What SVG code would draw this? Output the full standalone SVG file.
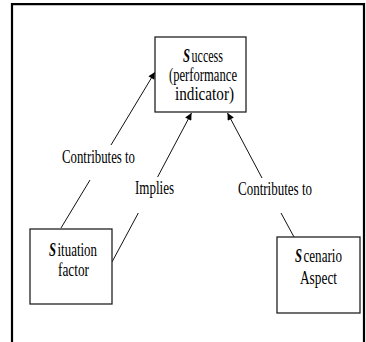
<svg xmlns="http://www.w3.org/2000/svg" width="366" height="342" viewBox="0 0 366 342">
  <defs>
    <marker id="arrow" viewBox="0 0 10 10" refX="10" refY="5" markerWidth="9" markerHeight="7" markerUnits="userSpaceOnUse" orient="auto">
      <path d="M0,0 L10,5 L0,10 z" fill="#000"/>
    </marker>
    <style>
      .frame { fill: none; stroke: #000; stroke-width: 2.2; }
      .box { fill: #fff; stroke: #222; stroke-width: 1.3; }
      .edge { fill: none; stroke: #111; stroke-width: 1; }
      .label { font-family: "Liberation Serif", "Times New Roman", serif; font-size: 18px; fill: #000; }
      .ini { font-weight: bold; font-style: italic; }
    </style>
  </defs>
  <rect width="366" height="342" fill="#fff"/>

  <!-- outer frame (open at the bottom) -->
  <path class="frame" d="M12,342 V4.2 H364 V342"/>

  <!-- connectors, each broken around its label -->
  <g id="connectors">
    <line class="edge" x1="61" y1="228" x2="90" y2="180"/>
    <line class="edge" x1="111" y1="145" x2="155" y2="72" marker-end="url(#arrow)"/>
    <line class="edge" x1="112" y1="262" x2="138.3" y2="213"/>
    <line class="edge" x1="157.6" y1="177" x2="191.5" y2="113" marker-end="url(#arrow)"/>
    <line class="edge" x1="294" y1="237" x2="281" y2="213"/>
    <line class="edge" x1="262" y1="178" x2="227.5" y2="113" marker-end="url(#arrow)"/>
    <text class="label" x="62" y="163" textLength="73" lengthAdjust="spacingAndGlyphs">Contributes to</text>
    <text class="label" x="135" y="194" textLength="39" lengthAdjust="spacingAndGlyphs">Implies</text>
    <text class="label" x="238" y="195" textLength="74" lengthAdjust="spacingAndGlyphs">Contributes to</text>
  </g>

  <g id="success">
    <rect class="box" x="155" y="37" width="91" height="75"/>
    <text class="label ini" x="183" y="62" textLength="7" lengthAdjust="spacingAndGlyphs">S</text>
    <text class="label" x="191.5" y="62" textLength="31.5" lengthAdjust="spacingAndGlyphs">uccess</text>
    <text class="label" x="169" y="81" textLength="68" lengthAdjust="spacingAndGlyphs">(performance</text>
    <text class="label" x="175" y="100" textLength="59" lengthAdjust="spacingAndGlyphs">indicator)</text>
  </g>

  <g id="situation">
    <rect class="box" x="30" y="229" width="82" height="75"/>
    <text class="label ini" x="49" y="256" textLength="7" lengthAdjust="spacingAndGlyphs">S</text>
    <text class="label" x="57.5" y="256" textLength="39.5" lengthAdjust="spacingAndGlyphs">ituation</text>
    <text class="label" x="58" y="276" textLength="31" lengthAdjust="spacingAndGlyphs">factor</text>
  </g>

  <g id="scenario">
    <rect class="box" x="277" y="237" width="83" height="76"/>
    <text class="label ini" x="295" y="262" textLength="7" lengthAdjust="spacingAndGlyphs">S</text>
    <text class="label" x="303.5" y="262" textLength="38.5" lengthAdjust="spacingAndGlyphs">cenario</text>
    <text class="label" x="300" y="284" textLength="37" lengthAdjust="spacingAndGlyphs">Aspect</text>
  </g>
</svg>
